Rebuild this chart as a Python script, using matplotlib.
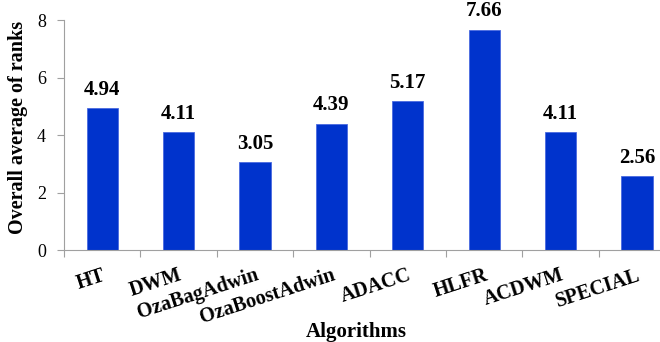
import matplotlib
matplotlib.use("Agg")
import matplotlib.pyplot as plt
import numpy as np

ALGORITHMS = ["HT", "DWM", "OzaBagAdwin", "OzaBoostAdwin", "ADACC", "HLFR", "ACDWM", "SPECIAL"]
AVG_RANKS = [4.94, 4.11, 3.05, 4.39, 5.17, 7.66, 4.11, 2.56]
Y_TICKS = [0, 2, 4, 6, 8]

BAR_COLOR = "#0033CC"
SERIF = ["Liberation Serif", "DejaVu Serif"]
GREY = "#a0a0a0"

fig = plt.figure(figsize=(6.6, 3.42), dpi=100)
# the category axis runs a little past the right edge of the figure
ax = fig.add_axes([0.097, 0.269, 0.926, 0.6725])

x = np.arange(len(ALGORITHMS))
ax.bar(x, AVG_RANKS, width=0.41, color=BAR_COLOR, edgecolor="#4a6ae0", linewidth=0.6, zorder=2)

for xi, v in zip(x, AVG_RANKS):
    ax.annotate(f"{v:.2f}", xy=(xi, v), xytext=(0, 6), textcoords="offset points",
                ha="center", va="bottom", fontsize=15, fontweight="bold", family=SERIF)

ax.set_xlim(-0.5, len(ALGORITHMS) - 0.5)
ax.set_ylim(0, 8)
ax.set_yticks(Y_TICKS)
ax.set_yticklabels([str(t) for t in Y_TICKS], fontsize=13, family=SERIF)

# tick marks sit between categories, labels sit under the bars
ax.set_xticks(np.arange(len(ALGORITHMS) + 1) - 0.5)
ax.set_xticklabels([])
ax.set_xticks(x, minor=True)
ax.set_xticklabels(ALGORITHMS, minor=True, rotation=18, ha="right", rotation_mode="anchor",
                   fontsize=14.6, fontweight="bold", family=SERIF)
ax.tick_params(axis="x", which="minor", length=0, pad=11)
ax.tick_params(axis="x", which="major", length=5, color=GREY)
ax.tick_params(axis="y", length=5, color=GREY, pad=8)

for side in ("top", "right"):
    ax.spines[side].set_visible(False)
for side in ("left", "bottom"):
    ax.spines[side].set_color(GREY)

ax.set_ylabel("Overall average of ranks", fontsize=14.5, fontweight="bold", family=SERIF)
ax.yaxis.set_label_coords(-0.059, 0.533)
ax.set_xlabel("Algorithms", fontsize=15, fontweight="bold", family=SERIF, va="top")
ax.xaxis.set_label_coords(0.478, -0.315)

fig.savefig("out.png", dpi=100)
